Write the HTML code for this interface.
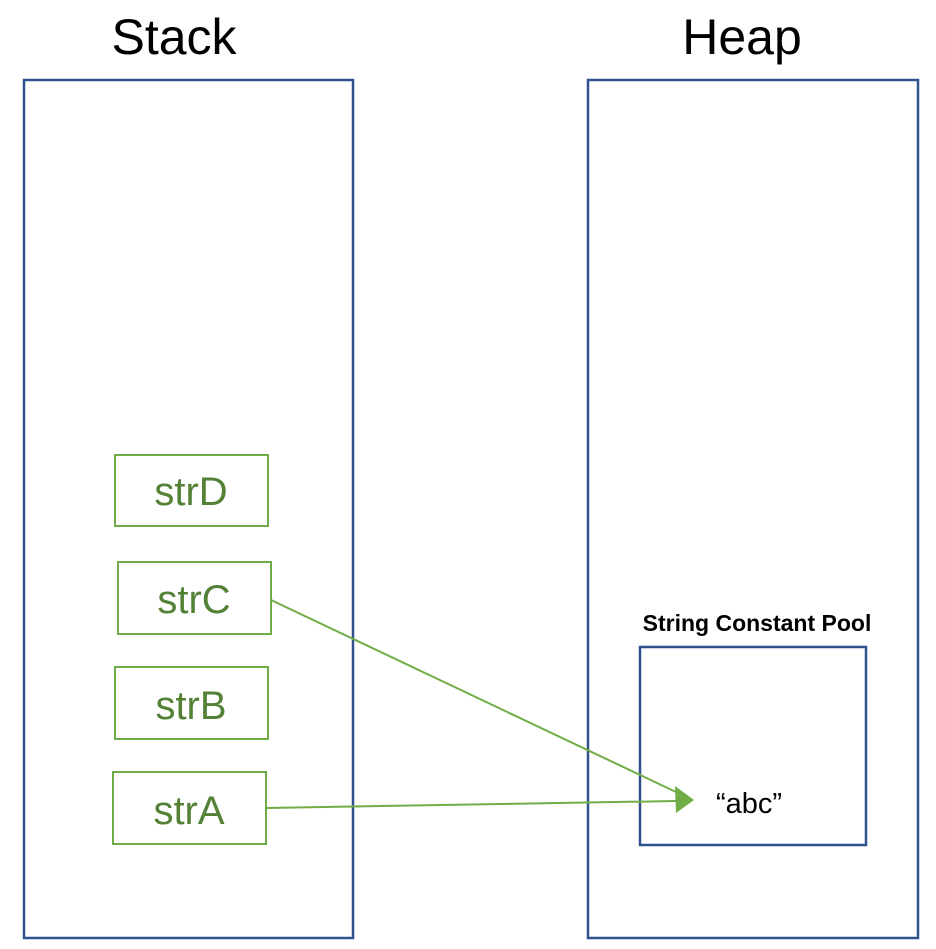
<!DOCTYPE html>
<html><head><style>
body{margin:0;width:936px;height:944px;background:#fff;overflow:hidden;font-family:"Liberation Sans",sans-serif}
</style></head><body>
<svg width="936" height="944" xmlns="http://www.w3.org/2000/svg">
<text x="174" y="54" font-size="50" text-anchor="middle" fill="#000" font-family="Liberation Sans">Stack</text>
<text x="742" y="54" font-size="50" text-anchor="middle" fill="#000" font-family="Liberation Sans">Heap</text>
<rect x="24" y="80" width="329" height="858" fill="none" stroke="#2F528F" stroke-width="2.5"/>
<rect x="588" y="80" width="330" height="858" fill="none" stroke="#2F528F" stroke-width="2.5"/>
<g fill="none" stroke="#70AD47" stroke-width="2">
<rect x="115" y="455" width="153" height="71"/>
<rect x="118" y="562" width="153" height="72"/>
<rect x="115" y="667" width="153" height="72"/>
<rect x="113" y="772" width="153" height="72"/>
</g>
<g font-size="40" fill="#538135" text-anchor="middle" font-family="Liberation Sans">
<text x="191" y="505">strD</text>
<text x="194" y="613">strC</text>
<text x="191" y="719">strB</text>
<text x="189" y="824">strA</text>
</g>
<text x="757" y="631" font-size="23" font-weight="bold" text-anchor="middle" fill="#000" font-family="Liberation Sans">String Constant Pool</text>
<rect x="640" y="647" width="226" height="198" fill="none" stroke="#2F528F" stroke-width="2.5"/>
<text x="749" y="813" font-size="29" text-anchor="middle" fill="#000" font-family="Liberation Sans">“abc”</text>
<g stroke="#70AD47" stroke-width="2">
<line x1="271" y1="600" x2="676" y2="792"/>
<line x1="266" y1="808" x2="676" y2="801"/>
</g>
<polygon points="694,800 675,786 676,813" fill="#70AD47"/>
</svg>
</body></html>
